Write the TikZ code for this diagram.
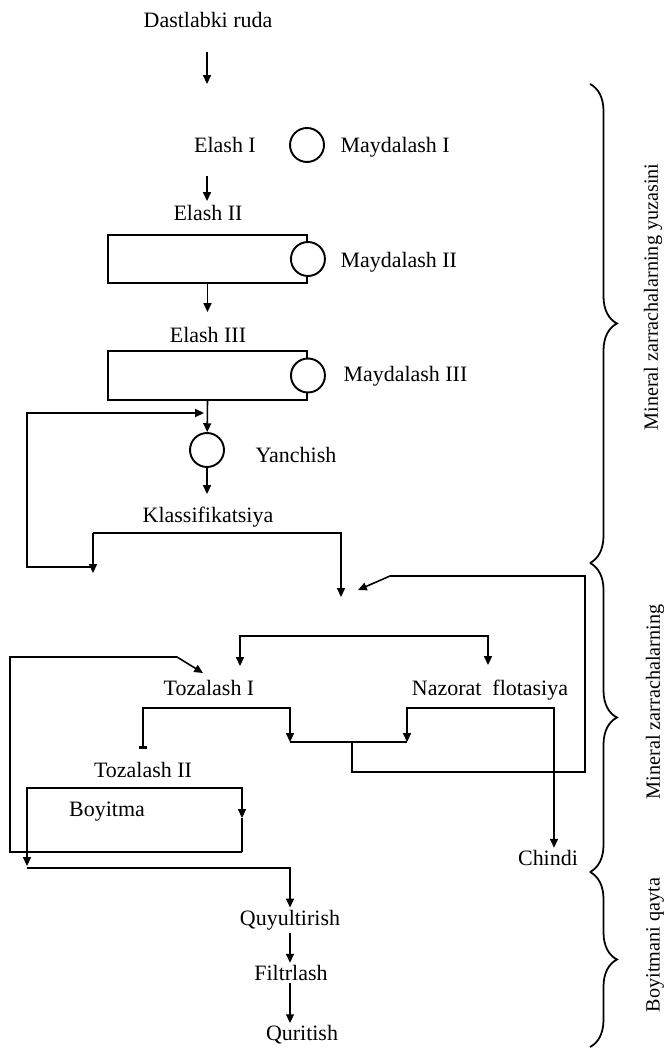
\documentclass[tikz,border=0pt]{standalone}
\usepackage{fontspec}
\setmainfont{Liberation Serif}
\usetikzlibrary{arrows.meta,positioning,decorations.pathreplacing}

\begin{document}
\begin{tikzpicture}[x=0.02cm,y=-0.02cm,line width=0.9pt,
   every node/.style={font=\fontsize{12.5}{15}\selectfont,inner sep=1pt},
   mill/.style={circle,draw,fill=white,line width=1.1pt,minimum size=0.68cm,inner sep=0pt},
   stage/.style={rectangle,draw,line width=1.1pt,minimum width=3.98cm,minimum height=0.97cm},
   arr/.style={-{Triangle[length=5pt,width=4.5pt]}},
   cut/.style={-{Rectangle[length=1.5pt,width=4.5pt]}},
   grp/.style={decorate,decoration={brace,amplitude=0.54cm},line width=1pt},
   side/.style={rotate=90,font=\fontsize{11.5}{14}\selectfont}]
   \useasboundingbox (0,0) rectangle (663,1050);

   % crushing and grinding
   \node (ruda) at (208,20) {Dastlabki ruda};
   \node (elash_1) at (225,145) {Elash I};
   \node[mill] (mill_1) at (307,145) {};
   \node[right] (mayd_1) at (338,147) {Maydalash I};
   \node (elash_2) at (208,213) {Elash II};
   \node[stage] (box_2) at (207.5,259) {};
   \node[mill] (mill_2) at (box_2.east) {};
   \node[right] (mayd_2) at (338,262) {Maydalash II};
   \node (elash_3) at (208,335) {Elash III};
   \node[stage] (box_3) at (207.5,375.5) {};
   \node[mill] (mill_3) at (box_3.east) {};
   \node[right] (mayd_3) at (341,376) {Maydalash III};
   \node[mill] (mill_4) at (207,450) {};
   \node[right] (yanch) at (253,455) {Yanchish};
   \node (klass) at (208,517) {Klassifikatsiya};

   \coordinate (in_1) at (207,52);  \coordinate (to_1) at (207,84);
   \coordinate (in_2) at (207,176); \coordinate (to_2) at (207,201);
   \coordinate (to_3) at (207.5,312);
   \coordinate (to_kl) at (207,494);

   \draw[arr] (in_1) -- (to_1);
   \draw[arr] (in_2) -- (to_2);
   \draw[arr] (box_2.south) -- (to_3);
   \draw[arr] (box_3.south) -- (mill_4);
   \draw[arr] (mill_4) -- (to_kl);

   % classification
   \coordinate (kl_l) at (93,533);  \coordinate (kl_r) at (341,533);
   \coordinate (coarse) at (93,573); \coordinate (fine) at (341,597);
   \coordinate (ret_a) at (27,567); \coordinate (ret_b) at (27,413);
   \coordinate (ret_c) at (204,413);

   \draw[arr] (kl_l) -- (kl_r) -- (fine);
   \draw[arr] (kl_l) -- (coarse);
   \draw[arr] (ret_a -| coarse) -- (ret_a) -- (ret_b) -- (ret_c);

   % flotation
   \node (toz_1) at (209,688) {Tozalash I};
   \node (nazorat) at (490,690) {Nazorat\ \ flotasiya};
   \node (toz_2) at (143,770) {Tozalash II};
   \node (boyitma) at (107,812) {Boyitma};
   \node (chindi) at (548,858) {Chindi};

   \coordinate (f_l) at (240,636);  \coordinate (f_r) at (488,636);
   \coordinate (f_l_in) at (240,666); \coordinate (f_r_in) at (488,665);
   \draw[arr] (f_r) -- (f_l) -- (f_l_in);
   \draw[arr] (f_l) -- (f_r) -- (f_r_in);

   \coordinate (t1_l) at (143,708); \coordinate (t1_r) at (290,708);
   \coordinate (t1_con) at (143,749); \coordinate (t1_tail) at (290,742);
   \draw[cut] (t1_r) -- (t1_l) -- (t1_con);
   \draw[arr] (t1_l) -- (t1_r) -- (t1_tail);

   \coordinate (n_l) at (407,708); \coordinate (n_r) at (554,708);
   \coordinate (n_tail) at (407,742);
   \draw[arr] (n_r) -- (n_l) -- (n_tail);
   \draw[arr] (n_l) -- (n_r) -- (n_r |- chindi.north);

   \coordinate (mid_j) at (352,742); \coordinate (mid_b) at (352,772);
   \coordinate (mid_r) at (585,772); \coordinate (mid_t) at (585,576);
   \coordinate (mid_k) at (390,576); \coordinate (mid_in) at (358,590);
   \draw (t1_tail) -- (n_tail);
   \draw[arr] (mid_j) -- (mid_b) -- (mid_r) -- (mid_t) -- (mid_k) -- (mid_in);

   \coordinate (b_tl) at (27,788);  \coordinate (b_tr) at (242,788);
   \coordinate (b_br) at (242,852); \coordinate (b_mid) at (242,818);
   \coordinate (b_con) at (27,866);
   \coordinate (r2_a) at (10,852);  \coordinate (r2_b) at (10,657);
   \coordinate (r2_c) at (177,657); \coordinate (r2_in) at (203,673);
   \draw[arr] (b_tr) -- (b_tl) -- (b_con);
   \draw[arr] (b_tl) -- (b_tr) -- (b_mid);
   \draw (b_mid) -- (b_br);
   \draw[arr] (b_br) -- (r2_a) -- (r2_b) -- (r2_c) -- (r2_in);

   % concentrate
   \node (quyul) at (290,920) {Quyultirish};
   \node (filtr) at (291,973) {Filtrlash};
   \node (quritish) at (302,1035) {Quritish};

   \coordinate (c_l) at (27,868); \coordinate (c_r) at (290,868);
   \draw[arr] (c_l) -- (c_r) -- (quyul.north);
   \draw[arr] (quyul.south) -- (quyul.south |- filtr.north);
   \draw[arr] (quyul.south |- filtr.south) -- (quyul.south |- quritish.north);

   % stages
   \draw[grp] (590,84) -- (590,563);
   \draw[grp] (590,563) -- (590,872);
   \draw[grp] (590,872) -- (590,1047);
   \node[side] (grp_1) at (653,297) {Mineral zarrachalarning yuzasini};
   \node[side] (grp_2) at (655,702) {Mineral zarrachalarning};
   \node[side] (grp_3) at (655,945) {Boyitmani qayta};
\end{tikzpicture}
\end{document}
